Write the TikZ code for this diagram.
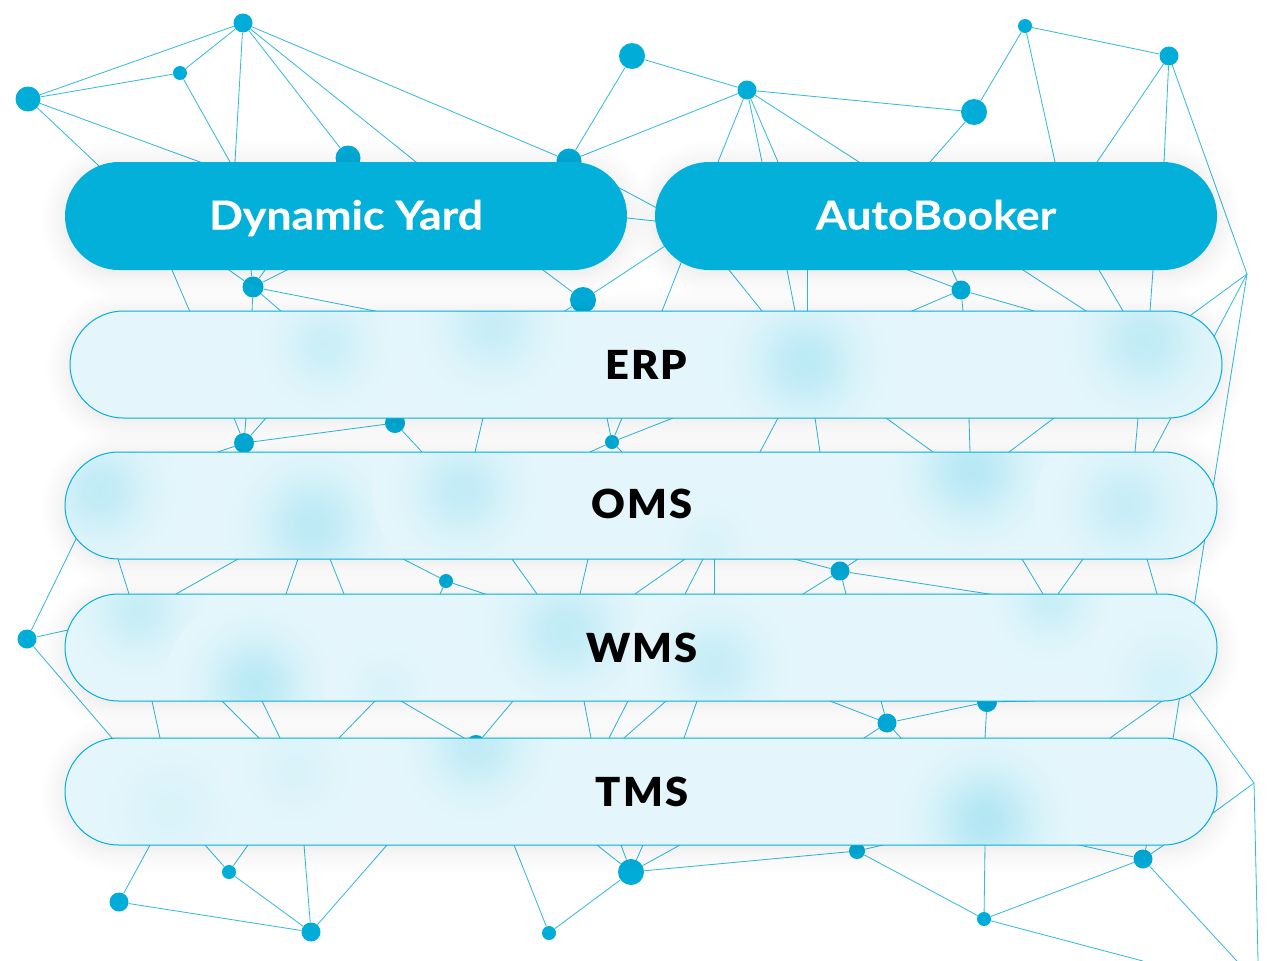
\documentclass[tikz,border=0pt]{standalone}
\usepackage{fontspec}
\setmainfont{Lato}
\newfontfamily\subfont{Lato Black}[FakeStretch=1.04,LetterSpace=5]
\newfontfamily\topfont{Lato}[FakeStretch=1.115,BoldFeatures={FakeBold=0.3}]
\usetikzlibrary{shapes.misc}
\definecolor{netblue}{HTML}{00ADD8}
\definecolor{netline}{HTML}{35BBDC}
\definecolor{pillblue}{HTML}{02B0DA}
\definecolor{pillpale}{HTML}{E4F6FB}
\colorlet{spotc}{pillblue!20!pillpale}
\pgfdeclareradialshading[spotc]{softspot}{\pgfpoint{0bp}{0bp}}{%
  color(0bp)=(spotc);
  color(4bp)=(spotc!90!pillpale);
  color(8bp)=(spotc!65!pillpale);
  color(12bp)=(spotc!38!pillpale);
  color(16bp)=(spotc!18!pillpale);
  color(20bp)=(spotc!6!pillpale);
  color(24bp)=(pillpale);
  color(50bp)=(pillpale)}
\tikzset{
  dot/.style={circle,fill=netblue,draw=none,inner sep=0pt},
  net/.style={netline,line width=0.62pt},
  openend/.style={shorten >=-3pt},
  openboth/.style={shorten >=-3pt,shorten <=-3pt},
  bigpill/.style={fill=pillblue,draw=none},
  biglabel/.style={text=white,font=\topfont\bfseries\fontsize{30}{36}\selectfont,text height=21pt,text depth=0pt,inner sep=0pt},
  sublabel/.style={text=black,font=\subfont\fontsize{30}{36}\selectfont,text height=21.5pt,text depth=0pt,inner sep=0pt},
}
% soft shadow of a pill: x0,y0,x1,y1
\newcommand{\softshadow}[4]{%
  \foreach \kk in {1,...,15}{%
    \pgfmathsetmacro\myE{24*(\kk/15)^1.5}%
    \pgfmathsetlengthmacro\myR{(53.5+\myE)*0.75pt}%
    \fill[black,opacity=.0042,rounded corners=\myR]
      ({#1-\myE},{#2-\myE+3}) rectangle ({#3+\myE},{#4+\myE+3});
  }%
}
% pale pill with blurred spots: x0,y0,x1,y1,spots (x/y/radius/percent)
\newcommand{\palepillbody}[5]{%
  \fill[pillpale,rounded corners=40.1pt] (#1,#2) rectangle (#3,#4);
  \begin{scope}
    \clip[rounded corners=40.1pt] (#1,#2) rectangle (#3,#4);
    \foreach \bx/\by/\bR/\bA in {#5}{%
      \colorlet{spotc}{pillblue!\bA!pillpale}%
      \shade[shading=softspot] (\bx,\by) circle[radius={\bR*1.5}];
    }%
  \end{scope}
  \draw[pillblue,line width=0.75pt,rounded corners=40.1pt] (#1,#2) rectangle (#3,#4);
}
\begin{document}
\begin{tikzpicture}[x=0.75pt,y=-0.75pt]
\useasboundingbox (0,0) rectangle (1280,960);
\fill[white] (0,0) rectangle (1280,960);
\clip (0,0) rectangle (1280,960);
% network dots
\foreach \nm/\px/\py/\rad in {
  a/243/23/9.5, b/28/99/12.5, c/180/73/7, d/348/158/12.5, e/569/161/12.5,
  f/632/56/13, g/747/90/9.5, h/974/112/13, i/1025/26/7, j/1169/56/9.5,
  k/253/287/10.5, l/583/300/13, m/961/290/9.5,
  o/244/443/10, p/395/423/10, q/612/442/7, r/446/581/7, s/840/571/9.5,
  t/27/639/9.5, u/887/723/9.5, v/987/702/10, w/476/745/10,
  x/119/902/9.5, y/229/872/7, z/311/932/9.5, aa/549/933/7, bb/631/872/13,
  cc/857/851/8, dd/984/919/7, ee/1143/859/9.5}{
  \node[dot,minimum size={\rad*1.5pt}] (\nm) at (\px,\py) {};
}
\coordinate (n) at (1247,274);
\coordinate (ff) at (1254,783);
\coordinate (jj) at (1172,745);
% node to node
\foreach \na/\nb in {b/a,b/c,c/a,a/d,a/e,e/f,e/g,f/g,g/h,h/i,i/j,j/n,o/p,
  u/v,x/z,y/z,aa/bb,bb/cc,cc/dd,dd/ee,n/jj,jj/ee}{
  \draw[net] (\na) -- (\nb);
}
% node to a free end hidden behind a pill or off the page
\foreach \na/\px/\py [count=\ii] in {
  c/230/162, a/235/162, a/416/162, b/200/162, b/98/165,
  g/718/162, g/762/162, g/778/162, g/859/162, h/930/162, i/1055/162,
  j/1097/162, j/1164/162, e/655/207, l/665/246, l/543/270, l/563/312,
  k/229/270, k/251/270, k/265/270, k/287/270, k/380/312, k/252/312, k/282/312,
  m/908/270, m/952/270, m/1034/311, m/912/311, m/963/311,
  n/1191/315, n/1125/505,
  o/234/418, o/246/418, o/266/418, o/218/452, o/249/452, p/422/452,
  q/607/418, q/622/418, q/590/452, q/622/452, q/673/418,
  r/403/559, r/485/594, r/440/594,
  s/794/559, s/858/559, s/803/594, s/846/594, s/989/594,
  t/100/490, t/68/630, t/112/738,
  u/830/701, u/881/701, u/864/738, u/901/738, v/1031/701, v/985/738,
  w/401/701, w/513/701,
  x/150/845, y/205/845, y/248/845, z/304/845, z/387/845,
  aa/514/845, bb/597/845, bb/621/845, bb/643/845, bb/680/845,
  cc/883/845, dd/985/845, dd/1139/960,
  ee/1079/845, ee/1164/845, ee/1236/960,
  ff/1190/695, ff/1213/813, ff/1258/960}{
  \coordinate (fe\ii) at (\px,\py);
  \draw[net,openend] (\na) -- (fe\ii);
}
% segments with both ends hidden behind pills
\foreach \ax/\ay/\bx/\by [count=\ii] in {
  627/218/655/221, 172/270/190/312, 681/263/662/311, 729/270/762/311,
  787/270/795/311, 807/270/807/311, 1023/270/1086/311, 1099/270/1123/311,
  1153/270/1150/311,
  483/418/475/452, 778/418/760/452, 815/418/820/452, 886/418/933/452,
  969/418/970/452, 1054/418/1009/452, 1138/418/1135/452,
  118/559/129/594, 238/559/176/594, 298/559/286/594, 330/559/344/594,
  512/559/537/594, 588/559/580/594, 685/559/635/594, 703/559/685/594,
  714/559/714/594, 1022/559/1043/594, 1083/559/1058/594, 1147/559/1157/594,
  152/701/160/738, 222/701/259/738, 262/701/280/738, 375/701/339/738,
  584/701/591/738, 628/701/609/738, 666/701/624/738, 697/701/684/738,
  1162/701/1110/738}{
  \coordinate (sa\ii) at (\ax,\ay);
  \coordinate (sb\ii) at (\bx,\by);
  \draw[net,openboth] (sa\ii) -- (sb\ii);
}
% shadows over the network
\softshadow{65}{162}{627}{270}
\softshadow{655}{162}{1217}{270}
\softshadow{70}{311}{1222}{418}
\softshadow{65}{452}{1217}{559}
\softshadow{65}{594}{1217}{701}
\softshadow{65}{738}{1217}{845}
% solid pills
\node[bigpill,rounded rectangle,minimum width=421.5pt,minimum height=81pt,inner sep=0pt] (yard) at (346,216) {};
\node[bigpill,rounded rectangle,minimum width=421.5pt,minimum height=81pt,inner sep=0pt] (booker) at (936,216) {};
\node[biglabel] (yardtxt) at (346,215.5) {Dynamic Yard};
\node[biglabel] (bookertxt) at (936,215.5) {AutoBooker};
% pale pills
\palepillbody{70}{311}{1222}{418}{325/345/55/11,492/325/60/13,805/362/65/18,1145/340/65/16}
\palepillbody{65}{452}{1217}{559}{100/490/60/16,312/525/65/18,462/490/60/15,710/545/40/5,972/470/65/20,1125/505/60/13}
\palepillbody{65}{594}{1217}{701}{138/610/55/13,255/685/60/19,385/690/40/5,565/630/65/16,715/665/60/13,1050/600/50/12,1165/680/55/7}
\palepillbody{65}{738}{1217}{845}{170/810/60/5,295/770/50/5,476/745/60/16,985/820/65/22}
\node[sublabel] (erp) at (646.5,365) {ERP};
\node[sublabel] (oms) at (642,504) {OMS};
\node[sublabel] (wms) at (642,648) {WMS};
\node[sublabel] (tms) at (642,792) {TMS};
\end{tikzpicture}
\end{document}
